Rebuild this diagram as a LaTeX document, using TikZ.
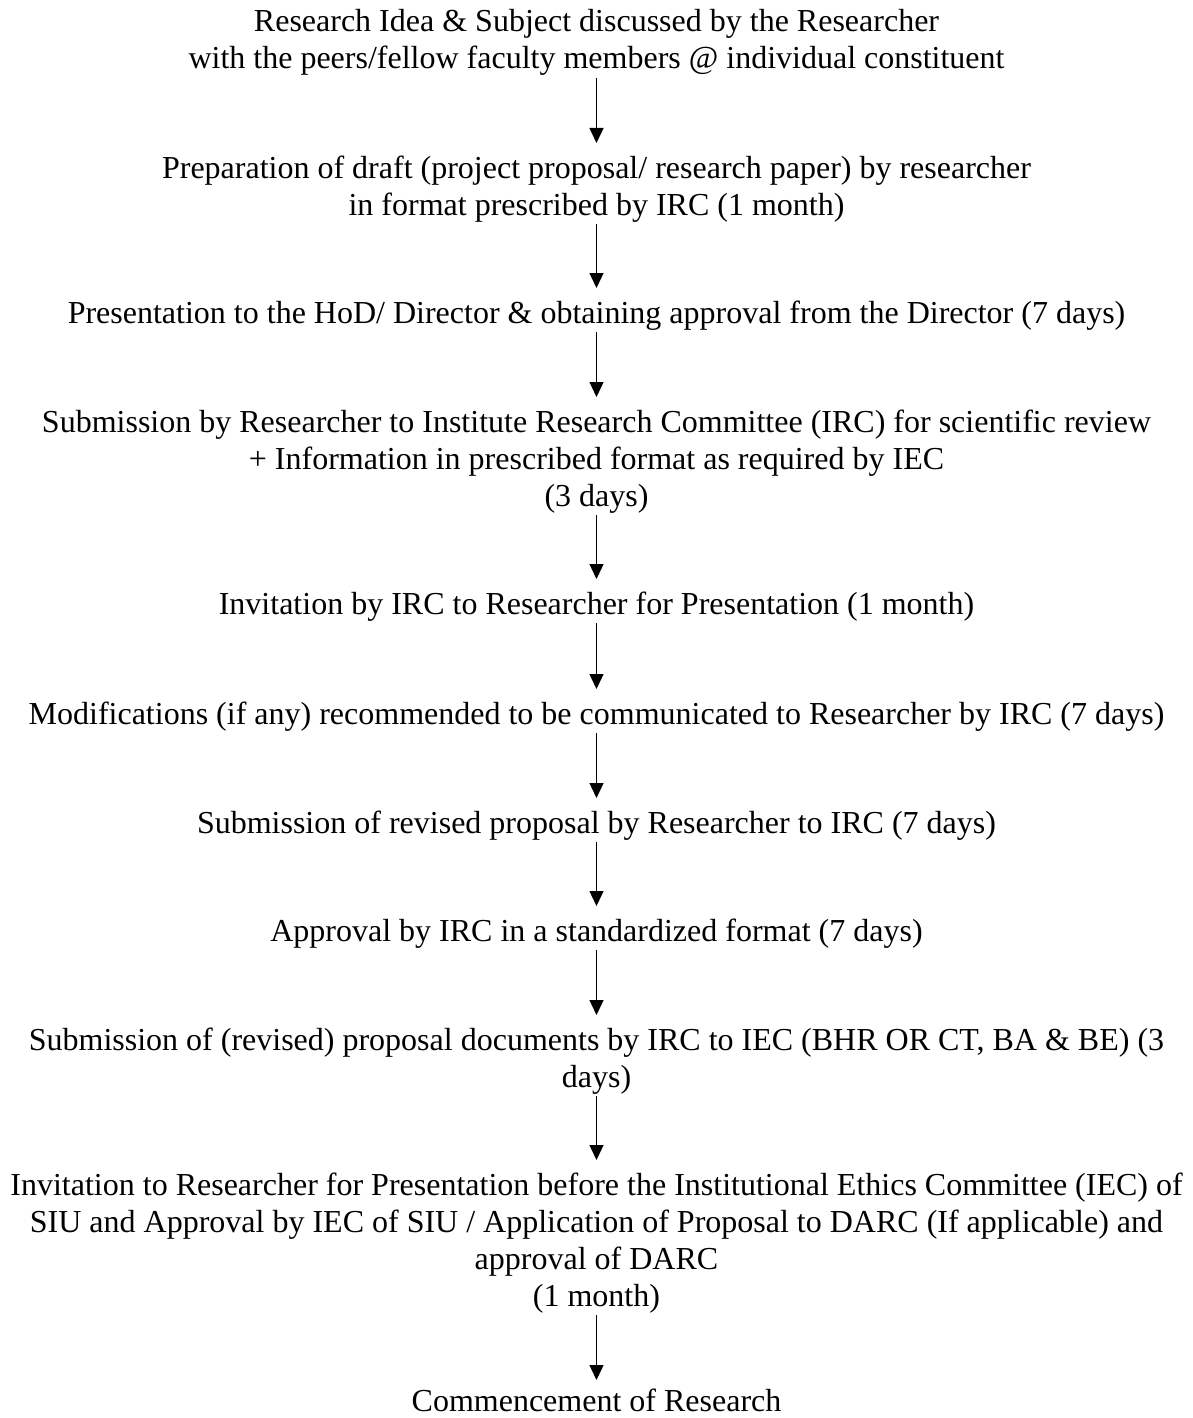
\documentclass[tikz,border=0pt]{standalone}
\usepackage{fontspec}
\setmainfont{Liberation Serif}
\usetikzlibrary{arrows.meta}
\tikzset{
  stepbox/.style={inner sep=0pt, outer sep=0pt, anchor=base,
    font=\fontsize{32}{37}\selectfont},
  flow/.style={line width=1.3pt, -{Triangle[length=15pt,width=14pt]},
    shorten <=-2.1pt, shorten >=9.1pt}
}
\newcommand{\blk}[1]{\begin{tabular}[t]{@{}c@{}}#1\end{tabular}}
\begin{document}
\begin{tikzpicture}[x=1pt,y=-1pt]
\useasboundingbox (0,0) rectangle (1193,1418);
\node[stepbox] (n1) at (596.5,32) {\blk{Research Idea \& Subject discussed by the Researcher\\with the peers/fellow faculty members @ individual constituent}};
\node[stepbox] (n2) at (596.5,178) {\blk{Preparation of draft (project proposal/ research paper) by researcher\\in format prescribed by IRC (1 month)}};
\node[stepbox] (n3) at (596.5,323) {\blk{Presentation to the HoD/ Director \& obtaining approval from the Director (7 days)}};
\node[stepbox] (n4) at (596.5,432) {\blk{Submission by Researcher to Institute Research Committee (IRC) for scientific review\\+ Information in prescribed format as required by IEC\\(3 days)}};
\node[stepbox] (n5) at (596.5,614) {\blk{Invitation by IRC to Researcher for Presentation (1 month)}};
\node[stepbox] (n6) at (596.5,724) {\blk{Modifications (if any) recommended to be communicated to Researcher by IRC (7 days)}};
\node[stepbox] (n7) at (596.5,833) {\blk{Submission of revised proposal by Researcher to IRC (7 days)}};
\node[stepbox] (n8) at (596.5,941) {\blk{Approval by IRC in a standardized format (7 days)}};
\node[stepbox] (n9) at (596.5,1050) {\blk{Submission of (revised) proposal documents by IRC to IEC (BHR OR CT, BA \& BE) (3\\days)}};
\node[stepbox] (n10) at (596.5,1195) {\blk{Invitation to Researcher for Presentation before the Institutional Ethics Committee (IEC) of\\SIU and Approval by IEC of SIU / Application of Proposal to DARC (If applicable) and\\approval of DARC\\(1 month)}};
\node[stepbox, text depth=5pt] (n11) at (596.5,1411) {\blk{Commencement of Research}};
\foreach \a/\b in {n1/n2,n2/n3,n3/n4,n4/n5,n5/n6,n6/n7,n7/n8,n8/n9,n9/n10}
  \draw[flow] (\a.south) -- (\b.north);
\draw[flow, shorten >=5.1pt] (n10.south) -- (n11.north);
\end{tikzpicture}
\end{document}
